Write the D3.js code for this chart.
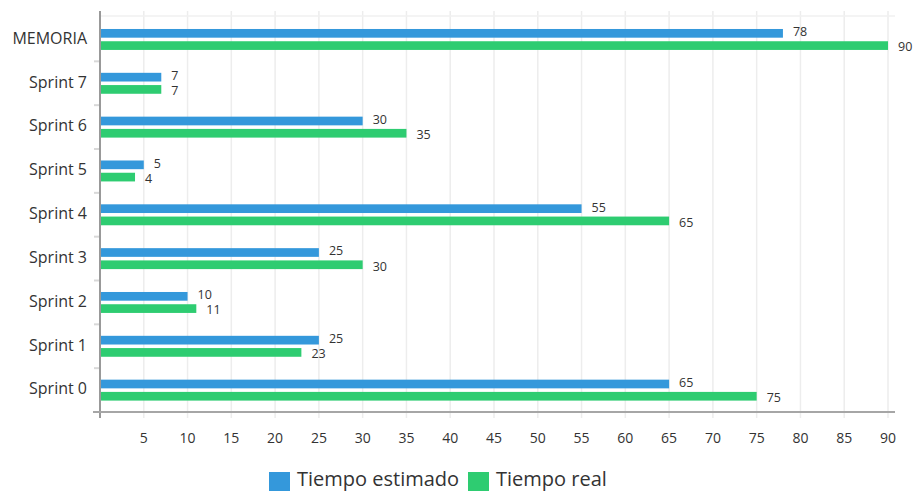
<!DOCTYPE html>
<html>
<head>
<meta charset="utf-8">
<script src="https://cdn.jsdelivr.net/npm/d3@7"></script>
<style>
  html, body { margin: 0; padding: 0; background: #fff; }
  svg { display: block; font-family: "Open Sans", sans-serif; }
</style>
</head>
<body>
<svg id="chart" width="924" height="491"></svg>
<script>
// Sprints, top to bottom
const categories = ["MEMORIA", "Sprint 7", "Sprint 6", "Sprint 5", "Sprint 4", "Sprint 3", "Sprint 2", "Sprint 1", "Sprint 0"];
const seriesNames = ["Tiempo estimado", "Tiempo real"];
const estimado = [78, 7, 30, 5, 55, 25, 10, 25, 65];
const real = [90, 7, 35, 4, 65, 30, 11, 23, 75];
const xTicks = [5, 10, 15, 20, 25, 30, 35, 40, 45, 50, 55, 60, 65, 70, 75, 80, 85, 90];
const colors = ["#3498db", "#2ecc71"];

const svg = d3.select("#chart");

const x = d3.scaleLinear().domain([0, 90]).range([100, 888]);
const y = d3.scaleBand().domain(categories).range([17.5, 412]);
const bw = y.bandwidth();
const sub = d3.scaleBand().domain(seriesNames).range([bw * 0.262, bw * 0.74]).paddingInner(0.29);

const axisY = y.range()[1];

// vertical grid lines
svg.append("g")
  .selectAll("line")
  .data(xTicks)
  .join("line")
  .attr("x1", d => x(d)).attr("x2", d => x(d))
  .attr("y1", 11).attr("y2", axisY + 6)
  .attr("stroke", "#ededed").attr("stroke-width", 1.5);

// top guide line
svg.append("line")
  .attr("x1", x(0)).attr("x2", 895)
  .attr("y1", 16).attr("y2", 16)
  .attr("stroke", "#f0f0f0").attr("stroke-width", 1.5);

// category separators on the left axis
svg.append("g")
  .selectAll("line")
  .data(categories.slice(1))
  .join("line")
  .attr("x1", x(0) - 6).attr("x2", x(0))
  .attr("y1", d => y(d)).attr("y2", d => y(d))
  .attr("stroke", "#d8d8d8").attr("stroke-width", 2);

// bars
const rows = categories.map((c, i) => ({ cat: c, vals: [estimado[i], real[i]] }));
const groups = svg.append("g")
  .selectAll("g")
  .data(rows)
  .join("g")
  .attr("transform", d => `translate(0,${y(d.cat)})`);

const cells = d => d.vals.map((v, j) => ({ v, s: seriesNames[j], j }));

groups.selectAll("rect")
  .data(cells)
  .join("rect")
  .attr("x", x(0))
  .attr("y", d => sub(d.s))
  .attr("width", d => x(d.v) - x(0))
  .attr("height", sub.bandwidth())
  .attr("fill", d => colors[d.j]);

// value labels: the estimate sits a touch above its bar, the real time a touch below
groups.selectAll("text")
  .data(cells)
  .join("text")
  .attr("x", d => x(d.v) + 10)
  .attr("y", d => sub(d.s) + sub.bandwidth() / 2 + (d.j === 0 ? -0.5 : 2.5))
  .attr("dominant-baseline", "middle")
  .attr("font-size", 12.5)
  .attr("fill", "#333")
  .text(d => d.v);

// y axis line
svg.append("line")
  .attr("x1", x(0)).attr("x2", x(0))
  .attr("y1", 11).attr("y2", axisY + 6)
  .attr("stroke", "#999").attr("stroke-width", 2);

// x axis line
svg.append("line")
  .attr("x1", x(0) - 7).attr("x2", 895)
  .attr("y1", axisY).attr("y2", axisY)
  .attr("stroke", "#a6a6a6").attr("stroke-width", 2);

// x tick labels
svg.append("g")
  .selectAll("text")
  .data(xTicks)
  .join("text")
  .attr("x", d => x(d))
  .attr("y", 439)
  .attr("text-anchor", "middle")
  .attr("dominant-baseline", "middle")
  .attr("font-size", 14)
  .attr("fill", "#333")
  .text(d => d);

// category labels
svg.append("g")
  .selectAll("text")
  .data(categories)
  .join("text")
  .attr("x", 87)
  .attr("y", d => y(d) + bw / 2)
  .attr("text-anchor", "end")
  .attr("dominant-baseline", "middle")
  .attr("font-size", 16)
  .attr("fill", "#333")
  .text(d => d);

// legend
const legendX = [269, 468];
const legend = svg.append("g")
  .selectAll("g")
  .data(seriesNames)
  .join("g")
  .attr("transform", (d, i) => `translate(${legendX[i]},472)`);
legend.append("rect")
  .attr("width", 21).attr("height", 21)
  .attr("fill", (d, i) => colors[i]);
legend.append("text")
  .attr("x", 28).attr("y", 14)
  .attr("font-size", 20)
  .attr("fill", "#333")
  .text(d => d);
</script>
</body>
</html>
